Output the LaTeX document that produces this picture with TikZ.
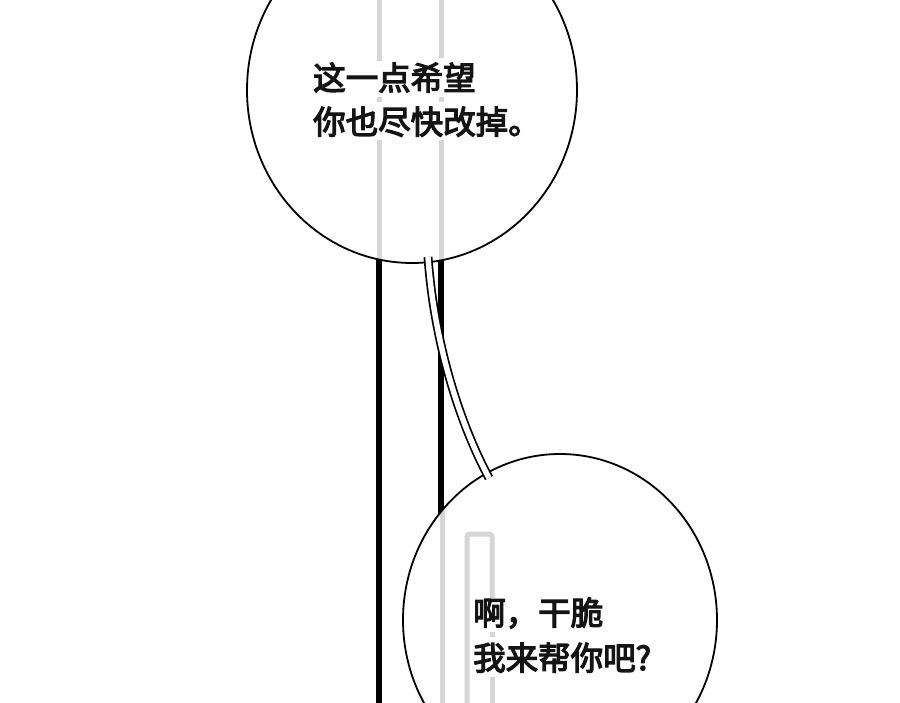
\documentclass[tikz,border=0pt]{standalone}
\usepackage{fontspec}
\newfontfamily\cjk{Noto Sans CJK SC}
\newcommand\heavytxt[1]{\special{pdf:literal direct 2 Tr 1.2 w}#1\special{pdf:literal direct 0 Tr}}
\usetikzlibrary{shapes.geometric}
\definecolor{barGray}{HTML}{D6D6D6}
\tikzset{
  bubble/.style={ellipse, inner sep=0pt, line width=1.8pt},
  blackbar/.style={line width=6pt, black},
  graybar/.style={line width=5pt, barGray},
  tail/.style={line width=1.7pt, double=white, double distance=5.5pt},
  txt/.style={inner sep=0pt, anchor=base west, font=\cjk\fontsize{32.5}{38}\selectfont, text=black!92}
}
\begin{document}
\begin{tikzpicture}[x=1pt,y=-1pt]
\clip (0,0) rectangle (900,703);
\fill[white] (0,0) rectangle (900,703);
% black bars behind the bubbles
\coordinate (barAtop) at (379,240);
\coordinate (barAbot) at (379,710);
\coordinate (barBtop) at (441,240);
\coordinate (barBbot) at (441,540);
\draw[blackbar] (barAtop) -- (barAbot);
\draw[blackbar] (barBtop) -- (barBbot);
% bubble fills
\node[bubble, fill=white, minimum width=330pt, minimum height=346pt] (b1) at (412,90) {};
\node[bubble, fill=white, minimum width=314pt, minimum height=332pt] (b2) at (560,620) {};
% gray bars inside top bubble
\begin{scope}
\clip (412,90) ellipse [x radius=165, y radius=173];
\draw[graybar] (379,-90) -- (379,61);
\draw[graybar] (379,97) -- (379,102);
\draw[graybar] (379,140) -- (379,280);
\draw[graybar] (441,-90) -- (441,58);
\draw[graybar] (441,97) -- (441,102);
\draw[graybar] (441,140) -- (441,280);
\end{scope}
% gray bars inside bottom bubble
\begin{scope}
\clip (560,620) ellipse [x radius=157, y radius=166];
\draw[graybar] (442,450) -- (442,710);
\draw[graybar, rounded corners=3pt] (467,710) -- (467,534) -- (492,534) -- (492,598);
\draw[graybar] (492,632) -- (492,637);
\draw[graybar] (492,677) -- (492,710);
\end{scope}
% bubble outlines
\node[bubble, draw=black, minimum width=330pt, minimum height=346pt] (b1o) at (412,90) {};
\node[bubble, draw=black, minimum width=314pt, minimum height=332pt] (b2o) at (560,620) {};
% tail
\coordinate (tailA) at (428,257);
\coordinate (tailB) at (489,478);
\draw[tail] (tailA) .. controls (434,340) and (458,420) .. (tailB);
% text
\node[txt] (t1a) at (313,90) {\heavytxt{这一点希望}};
\node[txt] (t1b) at (313,134) {\heavytxt{你也尽快改掉。}};
\node[txt] (t2a) at (473,625) {\heavytxt{啊，干脆}};
\node[txt] (t2b) at (473,670) {\heavytxt{我来帮你吧?}};
\end{tikzpicture}
\end{document}
